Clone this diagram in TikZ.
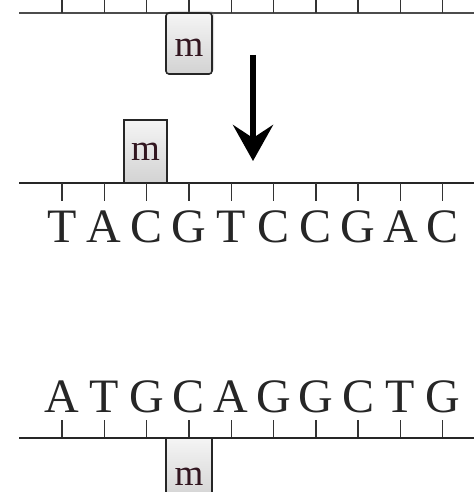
\documentclass[tikz,border=0pt]{standalone}
\usepackage{fontspec}
\setmainfont{Liberation Serif}
\usetikzlibrary{arrows.meta,shadows}
\begin{document}
\begin{tikzpicture}[x=1pt,y=-1pt,
  strand/.style={line width=2pt,black!85},
  tick/.style={line width=1.4pt,black!80},
  base/.style={anchor=base,inner sep=0pt,text=black!85,font=\fontsize{48}{48}\selectfont},
  mlabel/.style={anchor=base,inner sep=0pt,text depth=0pt,text={rgb,255:red,50;green,22;blue,32},font=\fontsize{37}{37}\selectfont},
  mbox/.style={draw=black!85,line width=1.6pt,top color=gray!8,bottom color=gray!35},
]
\useasboundingbox (0,0) rectangle (474,492);

% upper strand with the methyl tag hanging below it
\draw[strand,line width=2.6pt,gray!60!black] (19,13) coordinate (ts) -- (474,13) coordinate (te);
\foreach \i in {0,...,9}{
  \coordinate (tt\i) at ({62+42.3*\i},13);
  \draw[tick] (tt\i) -- ++(0,-14);
}
\filldraw[mbox,rounded corners=3pt,drop shadow={opacity=0.25,shadow xshift=2pt,shadow yshift=2pt}]
  (166,13) coordinate (mta) rectangle (212,74) coordinate (mtb);
\node[mlabel] (mt) at (189,57) {m};

% arrow between the two stages
\coordinate (arA) at (253,55);
\coordinate (arB) at (253,161);
\draw[line width=6pt,-{Stealth[length=36pt,width=40pt,inset=13pt]}] (arA) -- (arB);

% middle strand: tag on top, bases below
\filldraw[mbox] (124,120) coordinate (mma) rectangle (167,183) coordinate (mmb);
\node[mlabel] (mm) at (145.5,160) {m};
\draw[strand] (19,183) coordinate (ms) -- (474,183) coordinate (me);
\foreach \b [count=\k from 0] in {T,A,C,G,T,C,C,G,A,C}{
  \coordinate (mt\k) at ({62+42.3*\k},183);
  \draw[tick] (mt\k) -- ++(0,18);
  \node[base] (mb\k) at ({62+42.3*\k},242) {\b};
}

% lower strand: bases above, tag below
\foreach \b [count=\k from 0] in {A,T,G,C,A,G,G,C,T,G}{
  \node[base] (lb\k) at ({62+42.3*\k},412) {\b};
  \coordinate (lt\k) at ({62+42.3*\k},438);
  \draw[tick] (lt\k) -- ++(0,-18);
}
\filldraw[mbox] (166,438) coordinate (mla) rectangle (212,500) coordinate (mlb);
\node[mlabel] (ml) at (189,485) {m};
\draw[strand] (19,438) coordinate (ls) -- (474,438) coordinate (le);
\end{tikzpicture}
\end{document}
